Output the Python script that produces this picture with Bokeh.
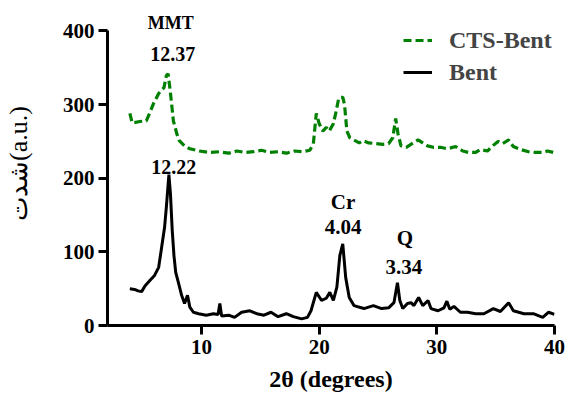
from bokeh.plotting import figure
from bokeh.models import Range1d, Label, Legend, LegendItem, FixedTicker
from bokeh.embed import file_html
from bokeh.resources import INLINE

# XRD patterns: 2-theta (degrees) vs intensity (a.u.)
bent_2theta = [3.9, 4.3, 4.6, 4.9, 5.2, 5.6, 6.0, 6.35, 6.6, 6.85, 7.0, 7.22, 7.35, 7.5, 7.65,
               7.8, 8.05, 8.3, 8.55, 8.8, 9.0, 9.3, 9.75, 10.4, 11.0, 11.4, 11.55, 11.7, 12.3,
               12.8, 13.4, 14.1, 14.7, 15.3, 15.9, 16.5, 17.2, 17.8, 18.5, 19.0, 19.3, 19.75,
               20.2, 20.6, 20.9, 21.2, 21.5, 21.75, 22.0, 22.25, 22.55, 22.95, 23.8, 24.6, 25.3,
               25.9, 26.35, 26.65, 26.85, 27.1, 27.5, 27.8, 28.05, 28.45, 28.8, 29.25, 29.5,
               30.1, 30.6, 30.85, 31.1, 31.45, 32.0, 32.6, 33.3, 34.0, 34.8, 35.4, 36.1, 36.5,
               37.4, 38.2, 39.0, 39.5, 40.0]
bent_intensity = [50, 49, 47, 46, 54, 61, 68, 79, 106, 133, 160, 205, 179, 130, 95,
                  72, 57, 41, 30, 41, 25, 18, 16, 14, 16, 15, 30, 13, 14,
                  11, 18, 20, 16, 14, 18, 12, 16, 12, 9, 11, 20, 45,
                  34, 37, 45, 34, 52, 95, 111, 65, 38, 27, 23, 27, 23,
                  24, 31, 58, 34, 23, 30, 31, 27, 38, 27, 34, 23,
                  20, 24, 33, 22, 26, 18, 18, 16, 16, 23, 19, 31, 20,
                  16, 16, 11, 18, 15]

cts_2theta = [3.9, 4.1, 4.75, 5.3, 5.6, 5.9, 6.35, 6.8, 7.0, 7.15, 7.3, 7.45, 7.6, 7.9, 8.1,
              8.55, 9.0, 9.8, 10.7, 11.5, 12.3, 13.0, 13.7, 14.4, 15.1, 15.8, 16.5, 17.2,
              17.9, 18.6, 19.2, 19.5, 19.75, 20.0, 20.3, 20.6, 20.85, 21.2, 21.45, 21.65,
              21.8, 22.0, 22.15, 22.35, 22.6, 22.95, 23.4, 23.7, 24.2, 24.8, 25.4, 25.9,
              26.25, 26.5, 26.7, 26.95, 27.4, 28.0, 28.4, 28.8, 29.2, 29.7, 30.3, 30.9,
              31.6, 32.2, 32.7, 33.3, 33.7, 34.3, 34.75, 35.2, 35.6, 36.1, 36.5, 37.1,
              37.8, 38.4, 39.0, 39.4, 39.9]
cts_intensity = [288, 275, 277, 278, 289, 301, 315, 323, 339, 342, 323, 301, 278, 260, 251,
                 244, 240, 237, 235, 236, 234, 237, 235, 236, 238, 235, 236, 234,
                 237, 236, 238, 247, 288, 274, 264, 269, 264, 274, 292, 308,
                 310, 310, 300, 264, 255, 252, 248, 251, 248, 247, 246, 247,
                 255, 281, 260, 244, 242, 248, 252, 248, 244, 242, 242, 240,
                 243, 237, 235, 235, 239, 237, 244, 250, 247, 252, 243, 239,
                 236, 235, 235, 237, 235]

x_ticks = [10, 20, 30, 40]
y_ticks = [0, 100, 200, 300, 400]

# Peak annotations: text, 2theta and intensity of the text centre
peak_texts = ["MMT", "12.37", "12.22", "Cr", "4.04", "Q", "3.34"]
peak_x = [7.37, 7.54, 7.63, 22.03, 22.03, 27.29, 27.2]
peak_y = [411, 368.5, 215, 168, 133.7, 118.8, 79.4]
peak_sizes = ["18px", "20px", "20px", "21px", "21px", "21px", "21px"]

FONT = "Liberation Serif"
GREEN = "#008000"

# headroom above 400 keeps the top annotation inside the frame; the axis stops at 400
p = figure(width=571, height=399, x_range=Range1d(2, 40), y_range=Range1d(0, 440),
           output_backend="svg", toolbar_location=None,
           min_border_left=106, min_border_right=17, min_border_top=1, min_border_bottom=74)
p.outline_line_color = None
p.xgrid.visible = False
p.ygrid.visible = False

r_cts = p.line(cts_2theta, cts_intensity, line_color=GREEN, line_width=3.2,
               line_dash="8 4")
r_bent = p.line(bent_2theta, bent_intensity, line_color="black", line_width=3)

for ax in (p.xaxis[0], p.yaxis[0]):
    ax.axis_line_width = 3
    ax.major_tick_line_width = 3
    ax.major_tick_in = 0
    ax.major_tick_out = 9
    ax.minor_tick_line_color = None
    ax.major_label_text_font = FONT
    ax.major_label_text_font_style = "bold"
    ax.major_label_text_font_size = "21px"
    ax.major_label_text_color = "black"
    ax.axis_label_text_font = FONT
    ax.axis_label_text_color = "black"

p.yaxis.bounds = (0, 400)
p.xaxis.ticker = FixedTicker(ticks=x_ticks)
p.yaxis.ticker = FixedTicker(ticks=y_ticks)
p.xaxis.major_label_standoff = 5
p.yaxis.major_label_standoff = 4

p.xaxis.axis_label = "2θ (degrees)"
p.xaxis.axis_label_text_font_style = "bold"
p.xaxis.axis_label_text_font_size = "24px"
p.xaxis.axis_label_standoff = 9

p.yaxis.axis_label = "شدت(a.u.)"
p.yaxis.axis_label_text_font_style = "normal"
p.yaxis.axis_label_text_font_size = "26px"
p.yaxis.axis_label_standoff = 27

for t, x, y, s in zip(peak_texts, peak_x, peak_y, peak_sizes):
    p.add_layout(Label(x=x, y=y, text=t, text_font=FONT, text_font_style="bold",
                       text_font_size=s, text_align="center", text_baseline="middle",
                       text_color="black"))

legend = Legend(items=[LegendItem(label="CTS-Bent", renderers=[r_cts]),
                       LegendItem(label="Bent", renderers=[r_bent])],
                location=(296, 237), orientation="vertical")
legend.border_line_alpha = 0
legend.background_fill_alpha = 0
legend.padding = 0
legend.margin = 0
legend.spacing = 0
legend.glyph_width = 29
legend.glyph_height = 32
legend.label_height = 32
legend.label_standoff = 17
legend.label_text_font = FONT
legend.label_text_font_style = "bold"
legend.label_text_font_size = "24px"
p.add_layout(legend)

open("out.html", "w").write(file_html(p, INLINE))
